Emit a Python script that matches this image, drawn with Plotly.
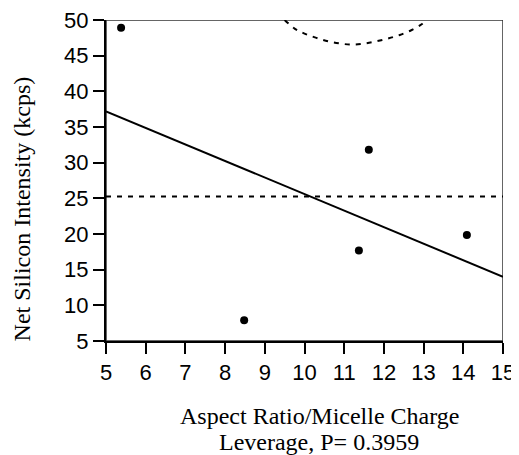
import plotly.graph_objects as go

# observed points
ratio = [5.38, 8.48, 11.37, 11.62, 14.09]
intensity = [48.9, 7.9, 17.7, 31.8, 19.85]

# fitted line ends
fit_x = [5, 15]
fit_y = [37.2, 14.0]

# mean reference line
mean_x = [5, 15]
mean_y = [25.25, 25.25]

# upper confidence curve
conf_x = [9.5, 9.75, 10.0, 10.3, 10.6, 10.9, 11.2, 11.5, 11.8, 12.1, 12.4, 12.7, 12.95, 13.05]
conf_y = [50.0, 48.8, 48.1, 47.5, 47.0, 46.7, 46.55, 46.7, 47.0, 47.4, 47.9, 48.6, 49.4, 49.9]

fig = go.Figure()

fig.add_trace(go.Scatter(x=mean_x, y=mean_y, mode="lines",
                         line=dict(color="black", width=2, dash="5px,6px")))
fig.add_trace(go.Scatter(x=conf_x, y=conf_y, mode="lines",
                         line=dict(color="black", width=2, dash="5px,6px", shape="spline")))
fig.add_trace(go.Scatter(x=fit_x, y=fit_y, mode="lines",
                         line=dict(color="black", width=2)))
fig.add_trace(go.Scatter(x=ratio, y=intensity, mode="markers",
                         marker=dict(color="black", size=8)))

# thin box on top/right
fig.add_shape(type="rect", xref="x", yref="y", x0=5, x1=15, y0=5, y1=50,
              line=dict(color="#333", width=1.5), layer="below")

serif = "Liberation Serif, Times New Roman"
fig.add_annotation(text="Aspect Ratio/Micelle Charge",
                   xref="x", yref="paper", x=10.37, y=0, yanchor="top", yshift=-60,
                   showarrow=False, font=dict(family=serif, size=24))
fig.add_annotation(text="Leverage, P= 0.3959",
                   xref="x", yref="paper", x=10.37, y=0, yanchor="top", yshift=-86,
                   showarrow=False, font=dict(family=serif, size=24))
fig.add_annotation(text="Net Silicon Intensity (kcps)",
                   xref="paper", yref="paper", x=0, y=0.41, xanchor="center",
                   yanchor="middle", xshift=-84, textangle=-90, showarrow=False,
                   font=dict(family=serif, size=24))

# page body has an 8px margin, so the figure is trimmed by that much
fig.update_layout(
    width=511, height=447,
    margin=dict(l=98, r=16, t=12, b=114),
    plot_bgcolor="white", paper_bgcolor="white",
    showlegend=False,
    font=dict(family="Liberation Sans, Arial", color="black", size=22),
)
fig.update_xaxes(
    range=[5, 15], dtick=1, showgrid=False, zeroline=False, automargin=False,
    showline=True, linecolor="black", linewidth=2,
    ticks="outside", ticklen=11, tickwidth=2, tickcolor="black",
    ticklabeloverflow="allow",
)
fig.update_yaxes(
    range=[5, 50], dtick=5, showgrid=False, zeroline=False, automargin=False,
    showline=True, linecolor="black", linewidth=2,
    ticks="outside", ticklen=11, tickwidth=2, tickcolor="black",
    ticklabeloverflow="allow",
)

fig.write_html("out.html")
